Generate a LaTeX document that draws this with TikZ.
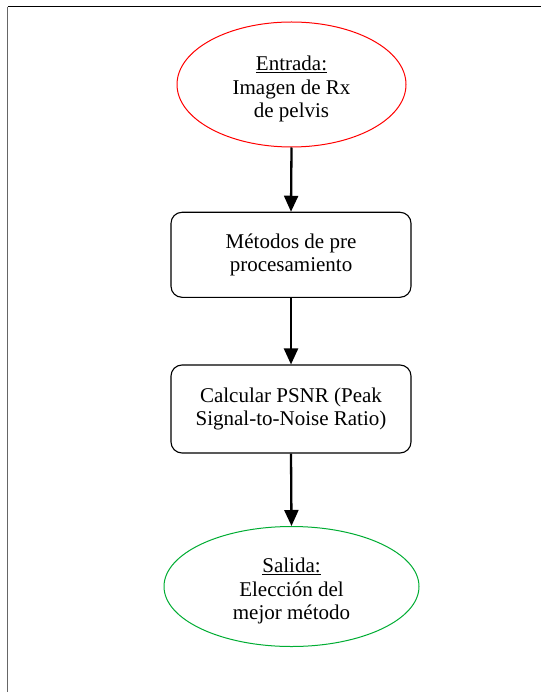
\documentclass[tikz,border=0pt]{standalone}
\usepackage{fontspec}
\setmainfont{Liberation Serif}
\usetikzlibrary{shapes.geometric,arrows.meta}
\begin{document}
\begin{tikzpicture}[x=1pt,y=-1pt,
  txt/.style={font=\fontsize{21}{23.6}\selectfont, align=center, inner sep=0pt},
  ellred/.style={ellipse, draw=red, line width=1pt, inner sep=0pt},
  ellgreen/.style={ellipse, draw=green!60!black!80!cyan, line width=1pt, inner sep=0pt},
  stepbox/.style={rectangle, rounded corners=11pt, draw=black, line width=1.1pt, inner sep=0pt},
  flow/.style={line width=2.3pt, -{Triangle[length=16pt,width=14pt]}}]
\useasboundingbox (0,0) rectangle (541,692);
\fill[white] (0,0) rectangle (541,692);
\coordinate (tl) at (7.5,7);
\coordinate (tr) at (541,7);
\coordinate (bl) at (7.5,692);
\draw[black, line width=1pt] (tl) -- (tr);
\draw[black!60, line width=1.4pt] (tl) -- (bl);
% shapes
\node[ellred, minimum width=229pt, minimum height=125pt] (e1) at (291.5,84.5) {};
\node[stepbox, minimum width=240pt, minimum height=85pt] (b1) at (291,254.8) {};
\node[stepbox, minimum width=240pt, minimum height=88pt] (b2) at (291,409) {};
\node[ellgreen, minimum width=255pt, minimum height=120pt] (e2) at (291.5,586.5) {};
% texts
\node[txt] (t1) at (291.5,89) {\underline{Entrada:}\\Imagen de Rx\\de pelvis};
\node[txt] (t2) at (291,255) {Métodos de pre\\procesamiento};
\node[txt] (t3) at (291,409) {Calcular PSNR (Peak\\Signal-to-Noise Ratio)};
\node[txt] (t4) at (291.5,591) {\underline{Salida:}\\Elección del\\mejor método};
% connectors
\draw[flow] (e1.south) -- (b1.north);
\draw[flow] (b1.south) -- (b2.north);
\draw[flow] (b2.south) -- (e2.north);
\end{tikzpicture}
\end{document}
